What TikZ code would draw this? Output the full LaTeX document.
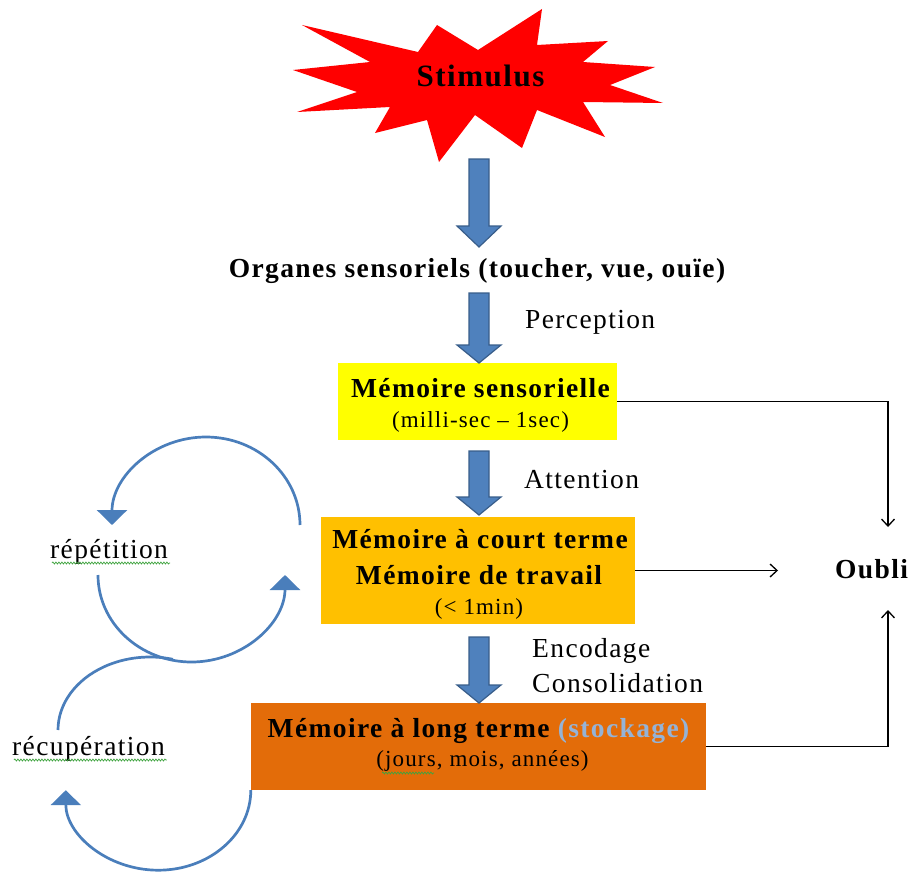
\documentclass[tikz,border=0pt]{standalone}
\usepackage{fontspec}
\setmainfont{Liberation Serif}[LetterSpace=5]
\usetikzlibrary{arrows.meta,decorations.pathmorphing,calc}
\definecolor{arrblue}{HTML}{4F81BD}
\definecolor{arrborder}{HTML}{385D8A}
\definecolor{loopblue}{HTML}{4A7EBB}
\definecolor{msyellow}{HTML}{FFFF00}
\definecolor{mctorange}{HTML}{FFC000}
\definecolor{mltorange}{HTML}{E36C09}
\definecolor{stock}{HTML}{95B3D7}
\definecolor{spell}{HTML}{3FA33F}
\tikzset{
  txt/.style={font=\fontsize{27.5}{32}\selectfont, inner sep=0pt, anchor=base},
  txtb/.style={font=\fontsize{27.5}{32}\selectfont\bfseries, inner sep=0pt, anchor=base},
  txts/.style={font=\fontsize{23}{27}\selectfont, inner sep=0pt, anchor=base},
  stimtxt/.style={font=\fontsize{31}{36}\selectfont\bfseries, inner sep=0pt, anchor=base},
  memobox/.style={inner sep=0pt, draw=none},
  blockarrow/.style={fill=arrblue, draw=arrborder, line width=1.2pt, line join=miter},
  cyclearrow/.style={draw=loopblue, line width=2.7pt, -{Triangle[length=15pt,width=30pt]}},
  cycleline/.style={draw=loopblue, line width=2.7pt},
  thinarrow/.style={line width=1.3pt, -{Straight Barb[length=7pt,width=13pt]}},
  spellline/.style={draw=spell, line width=0.7pt, decorate, decoration={snake, amplitude=1pt, segment length=3pt}}
}
\newcommand\myBlockArrow[3]{\filldraw[blockarrow] (469,#1) -- (489,#1) -- (489,#2) -- (501,#2) -- (479,#3) -- (457,#2) -- (469,#2) -- cycle;}
\begin{document}
\begin{tikzpicture}[x=1pt,y=-1pt]
\useasboundingbox (0,0) rectangle (912,872);
% star
\fill[red] (293,70) -- (370,62) -- (302,25) -- (418,52) -- (437,25) -- (478,50) -- (542,9) -- (537,45) -- (608,41) -- (583,62) -- (655,67) -- (610,85) -- (663,103) -- (583,102) -- (605,137) -- (537,110) -- (522,148) -- (475,115) -- (439,162) -- (427,120) -- (375,133) -- (390,107) -- (297,112) -- (357,92) -- cycle;
\node[stimtxt] (stim) at (480.5,87) {Stimulus};
% organes
\node[txtb] (org) at (477,277) {Organes sensoriels (toucher, vue, ouïe)};
\node[txt, anchor=base west] (perc) at (525,328) {Perception};
% boxes
\node[memobox, fill=msyellow, minimum width=279pt, minimum height=77pt] (ms) at (477.5,401.5) {};
\node[txtb] (ms1) at (480.5,397) {Mémoire sensorielle};
\node[txts] (ms2) at (480.5,427) {(milli-sec -- 1sec)};
\node[txt, anchor=base west] (att) at (524,488) {Attention};
\node[memobox, fill=mctorange, minimum width=314pt, minimum height=107pt] (mct) at (478,570.5) {};
\node[txtb] (mct1) at (480,548) {Mémoire à court terme};
\node[txtb] (mct2) at (479,584) {Mémoire de travail};
\node[txts] (mct3) at (479,614) {(< 1min)};
\node[txt, anchor=base west] (enc) at (532,657) {Encodage};
\node[txt, anchor=base west] (cons) at (532,692) {Consolidation};
\node[memobox, fill=mltorange, minimum width=455pt, minimum height=87pt] (mlt) at (478.5,746.5) {};
\node[txtb] (mlt1) at (478.5,737) {Mémoire à long terme \textcolor{stock}{(stockage)}};
\node[txts] (mlt2) at (482.5,766) {(jours, mois, années)};
% oubli
\node[txtb, anchor=base west] (oubli) at (835,578) {Oubli};
% side labels
\node[txt, anchor=base west] (rep) at (50,558) {répétition};
\node[txt, anchor=base west] (recup) at (12,755) {récupération};
% block arrows
\myBlockArrow{159}{226}{247}
\myBlockArrow{293}{345}{363}
\myBlockArrow{451}{497}{515}
\myBlockArrow{637}{685}{703}
% thin connectors
\coordinate (o1) at (888,527);
\coordinate (o2) at (888,610);
\coordinate (o3) at (778,570.5);
\draw[thinarrow] (ms.east) -| (o1);
\draw[thinarrow] (mct.east) -- (o3);
\draw[thinarrow] (mlt.east) -| (o2);
% cycle arrows
\draw[cyclearrow] (300,525) arc[start angle=0, end angle=-180, x radius=94, y radius=88];
\draw[cyclearrow] (98,575) arc[start angle=180, end angle=0, x radius=93.5, y radius=87];
\draw[cycleline] (58,730) arc[start angle=-180, end angle=-75.5, x radius=92, y radius=73];
\draw[cyclearrow] (mlt.south west) arc[start angle=0, end angle=180, x radius=92.5, y radius=80];
% spell-check underlines
\draw[spellline] ($(rep.base west)+(2,5)$) -- ($(rep.base east)+(2,5)$);
\draw[spellline] ($(recup.base west)+(2,5)$) -- ($(recup.base east)+(2,5)$);
\draw[spellline] (382,773) -- (434,773);
\end{tikzpicture}
\end{document}
